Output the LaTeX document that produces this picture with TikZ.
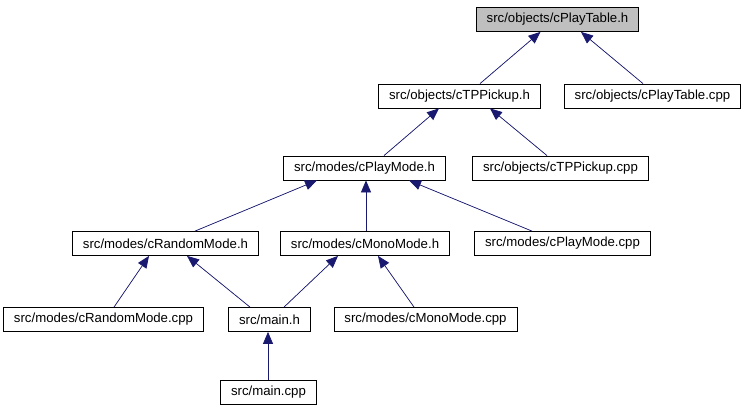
\documentclass[tikz,border=0pt]{standalone}
\usepackage{fontspec}
\setmainfont{Liberation Sans}
\usetikzlibrary{arrows.meta, positioning}
\definecolor{edgeblue}{HTML}{191970}
\definecolor{rootgray}{HTML}{BFBFBF}
\tikzset{
    box/.style = {draw, rectangle, minimum height=24pt, inner xsep=10.5pt, inner ysep=0pt, text centered, fill=white, font=\fontsize{13.2}{15}\selectfont, line width=0.8pt},
    rootbox/.style = {box, fill=rootgray},
    arrow/.style = {-{Triangle[length=12pt, width=10pt]}, draw=edgeblue, fill=edgeblue, line width=0.7pt}
}

\begin{document}
\begin{tikzpicture}[x=1pt, y=-1pt]
    \useasboundingbox (0,0) rectangle (751,411);
    \node[rootbox] (PTh) at (557.5,19.5) {src/objects/cPlayTable.h};
    \node[box] (TPPh) at (459.5,96) {src/objects/cTPPickup.h};
    \node[box] (PTcpp) at (652.5,96) {src/objects/cPlayTable.cpp};
    \node[box] (PMh) at (364.5,168) {src/modes/cPlayMode.h};
    \node[box] (TPPcpp) at (560.5,168) {src/objects/cTPPickup.cpp};
    \node[box] (RMh) at (165.5,243.5) {src/modes/cRandomMode.h};
    \node[box] (MMh) at (365,243.5) {src/modes/cMonoMode.h};
    \node[box] (PMcpp) at (562.5,243.5) {src/modes/cPlayMode.cpp};
    \node[box] (RMcpp) at (103.5,319.5) {src/modes/cRandomMode.cpp};
    \node[box] (mainh) at (269.5,319.5) {src/main.h};
    \node[box] (MMcpp) at (425.5,319.5) {src/modes/cMonoMode.cpp};
    \node[box] (maincpp) at (268.5,392) {src/main.cpp};

    \draw[arrow] ([xshift=20.5pt]TPPh.north) -- ([xshift=-17pt]PTh.south);
    \draw[arrow] ([xshift=-9.5pt]PTcpp.north) -- ([xshift=23.5pt]PTh.south);
    \draw[arrow] ([xshift=19.5pt]PMh.north) -- ([xshift=-20.5pt]TPPh.south);
    \draw[arrow] ([xshift=-13.5pt]TPPcpp.north) -- ([xshift=30.5pt]TPPh.south);
    \draw[arrow] ([xshift=29.5pt]RMh.north) -- ([xshift=-47.5pt]PMh.south);
    \draw[arrow] ([xshift=1pt]MMh.north) -- ([xshift=1.5pt]PMh.south);
    \draw[arrow] ([xshift=-30.5pt]PMcpp.north) -- ([xshift=44.5pt]PMh.south);
    \draw[arrow] ([xshift=10.5pt]RMcpp.north) -- ([xshift=-16.5pt]RMh.south);
    \draw[arrow] ([xshift=-19.5pt]mainh.north) -- ([xshift=21.5pt]RMh.south);
    \draw[arrow] ([xshift=14.5pt]mainh.north) -- ([xshift=-27pt]MMh.south);
    \draw[arrow] ([xshift=-11.5pt]MMcpp.north) -- ([xshift=13pt]MMh.south);
    \draw[arrow] ([xshift=-0.5pt]maincpp.north) -- ([xshift=-1.5pt]mainh.south);
\end{tikzpicture}
\end{document}
